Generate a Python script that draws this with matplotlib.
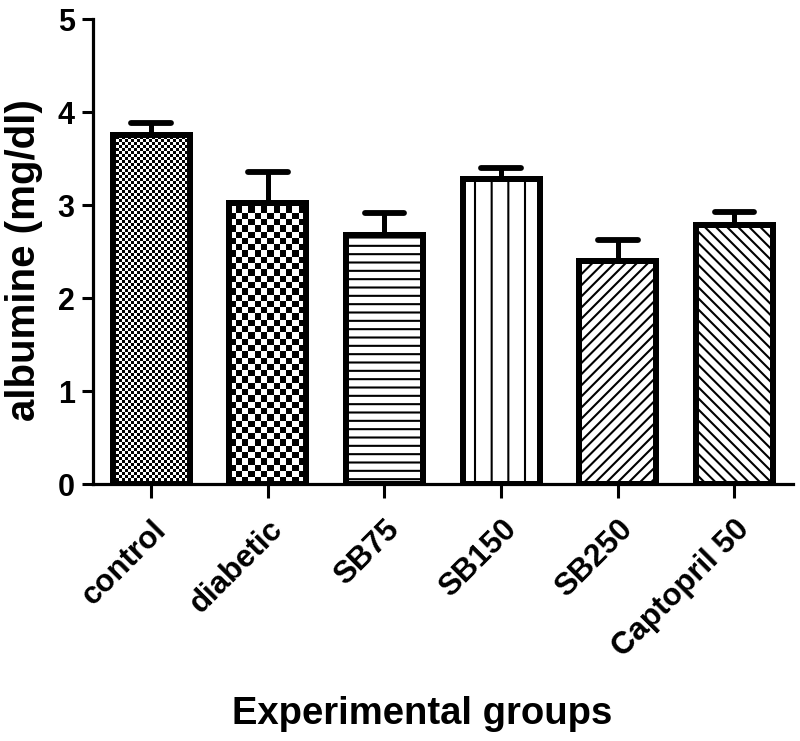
import numpy as np
import matplotlib
matplotlib.use("Agg")
import matplotlib.pyplot as plt

# data
groups = ["control", "diabetic", "SB75", "SB150", "SB250", "Captopril 50"]
means = [3.75, 3.02, 2.68, 3.28, 2.40, 2.79]
errors = [0.13, 0.33, 0.23, 0.12, 0.22, 0.14]

# fill style per bar: ("checker", cell px) or hatch string
fills = [("checker", 3), ("checker", 6.3), "--", "|", "///", "\\\\\\"]

plt.rcParams["font.family"] = ["Liberation Sans", "DejaVu Sans"]
plt.rcParams["font.weight"] = "bold"
plt.rcParams["hatch.linewidth"] = 1.5


def checker_image(ax, patch, cell):
    # build a black/white checkerboard that matches the bar's pixel size
    x0, y0 = patch.get_x(), patch.get_y()
    x1, y1 = x0 + patch.get_width(), y0 + patch.get_height()
    p0 = ax.transData.transform((x0, y0))
    p1 = ax.transData.transform((x1, y1))
    w = int(round(abs(p1[0] - p0[0])))
    h = int(round(abs(p1[1] - p0[1])))
    yy, xx = np.mgrid[0:h, 0:w]
    img = ((np.floor(xx / cell) + np.floor(yy / cell)) % 2).astype(float)
    im = ax.imshow(img, cmap="gray", extent=(x0, x1, y0, y1), origin="lower",
                   interpolation="nearest", aspect="auto", zorder=2)
    im.set_clip_path(patch)


def main():
    fig = plt.figure(figsize=(8.0, 7.41), dpi=100)
    ax = fig.add_axes([0.116, 0.3468, 0.875, 0.6275])
    x = np.arange(len(groups))
    ax.set_xlim(-0.5, 5.5)
    ax.set_ylim(0, 5)

    # error bars (upper only) drawn under the bars
    tops = np.array(means) + np.array(errors)
    ax.vlines(x, means, tops, color="black", lw=3.6, zorder=1)
    ax.hlines(tops, x - 0.17, x + 0.17, color="black", lw=4.2,
              capstyle="round", zorder=1)

    bars = ax.bar(x, means, width=0.66, color="white", edgecolor="black",
                  linewidth=4.3, zorder=2)
    for b, f in zip(bars, fills):
        if isinstance(f, tuple):
            checker_image(ax, b, f[1])
        else:
            b.set_hatch(f)
    # draw the outlines again on top of textures
    ax.bar(x, means, width=0.66, color="none", edgecolor="black",
           linewidth=4.3, zorder=3)

    for s in ["top", "right"]:
        ax.spines[s].set_visible(False)
    for s in ["left", "bottom"]:
        ax.spines[s].set_linewidth(2.3)

    ax.set_yticks([0, 1, 2, 3, 4, 5])
    ax.tick_params(axis="y", length=8, width=2.2, pad=5, labelsize=22)
    ax.tick_params(axis="x", length=10, width=2.2, pad=12, labelsize=22.5)
    ax.set_xticks(x)
    ax.set_xticklabels(groups, rotation=45, ha="right", rotation_mode="anchor")

    ax.set_ylabel("albumine (mg/dl)", fontsize=29, fontweight="bold")
    ax.set_xlabel("Experimental groups", fontsize=27.5, fontweight="bold")
    ax.yaxis.set_label_coords(-0.071, 0.482)
    ax.xaxis.set_label_coords(0.471, -0.456)

    fig.savefig("out.png", dpi=100)


if __name__ == "__main__":
    main()
